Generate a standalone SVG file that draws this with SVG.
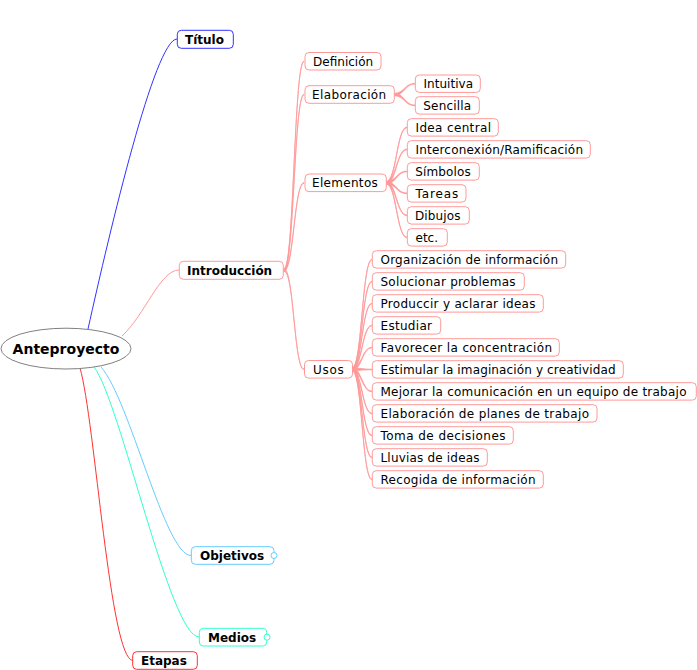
<svg xmlns="http://www.w3.org/2000/svg" width="697" height="670" viewBox="0 0 697 670">
<style>
text{font-family:"DejaVu Sans",Verdana,sans-serif;font-size:12px;fill:#000}
.b{font-weight:bold}
.n rect{fill:#fff;stroke:#ff9999;stroke-width:1}
.pk{fill:#ff9999;stroke:#ff9999;stroke-width:0.8;stroke-linejoin:round}
.c{fill:none;stroke-width:1}
</style>
<rect width="697" height="670" fill="#fff"/>
<g id="connectors">
<path class="c" stroke="#3333ff" d="M88,329 C110,230 155,39 177,39"/>
<path class="c" stroke="#ff9999" d="M122,336 C145,315 160,270 179,270"/>
<path class="c" stroke="#66ccff" d="M101,367 C130,400 165,555.5 191,555.5"/>
<path class="c" stroke="#33ffcc" d="M94,367 C120,400 170,637 199,637"/>
<path class="c" stroke="#ff3333" d="M80,368 C95,420 110,660.5 133,660.5"/>
<path class="pk" d="M284,268.8 C294,268.8 294,61 304,61 L304,61.6 C294,61.6 294,271.2 284,271.2 Z"/>
<path class="pk" d="M284,268.8 C294,268.8 294,94.2 304,94.2 L304,94.8 C294,94.8 294,271.2 284,271.2 Z"/>
<path class="pk" d="M284,268.8 C294,268.8 294,182.5 304,182.5 L304,183.1 C294,183.1 294,271.2 284,271.2 Z"/>
<path class="pk" d="M284,268.8 C294,268.8 294,369 304,369 L304,369.6 C294,369.6 294,271.2 284,271.2 Z"/>
<path class="pk" d="M394,93.3 C404.5,93.3 404.5,83.4 415,83.4 L415,84 C404.5,84 404.5,95.7 394,95.7 Z"/>
<path class="pk" d="M394,93.3 C404.5,93.3 404.5,105.1 415,105.1 L415,105.7 C404.5,105.7 404.5,95.7 394,95.7 Z"/>
<path class="pk" d="M386,181.6 C396.5,181.6 396.5,127.1 407,127.1 L407,127.7 C396.5,127.7 396.5,184 386,184 Z"/>
<path class="pk" d="M386,181.6 C396.5,181.6 396.5,149.1 407,149.1 L407,149.7 C396.5,149.7 396.5,184 386,184 Z"/>
<path class="pk" d="M386,181.6 C396.5,181.6 396.5,171.1 407,171.1 L407,171.7 C396.5,171.7 396.5,184 386,184 Z"/>
<path class="pk" d="M386,181.6 C396.5,181.6 396.5,193.1 407,193.1 L407,193.7 C396.5,193.7 396.5,184 386,184 Z"/>
<path class="pk" d="M386,181.6 C396.5,181.6 396.5,215.1 407,215.1 L407,215.7 C396.5,215.7 396.5,184 386,184 Z"/>
<path class="pk" d="M386,181.6 C396.5,181.6 396.5,237.1 407,237.1 L407,237.7 C396.5,237.7 396.5,184 386,184 Z"/>
<path class="pk" d="M352,368.1 C362,368.1 362,259.2 372,259.2 L372,259.8 C362,259.8 362,370.5 352,370.5 Z"/>
<path class="pk" d="M352,368.1 C362,368.1 362,281.2 372,281.2 L372,281.8 C362,281.8 362,370.5 352,370.5 Z"/>
<path class="pk" d="M352,368.1 C362,368.1 362,303.2 372,303.2 L372,303.8 C362,303.8 362,370.5 352,370.5 Z"/>
<path class="pk" d="M352,368.1 C362,368.1 362,325.2 372,325.2 L372,325.8 C362,325.8 362,370.5 352,370.5 Z"/>
<path class="pk" d="M352,368.1 C362,368.1 362,347.2 372,347.2 L372,347.8 C362,347.8 362,370.5 352,370.5 Z"/>
<path class="pk" d="M352,368.1 C362,368.1 362,369.2 372,369.2 L372,369.8 C362,369.8 362,370.5 352,370.5 Z"/>
<path class="pk" d="M352,368.1 C362,368.1 362,391.2 372,391.2 L372,391.8 C362,391.8 362,370.5 352,370.5 Z"/>
<path class="pk" d="M352,368.1 C362,368.1 362,413.2 372,413.2 L372,413.8 C362,413.8 362,370.5 352,370.5 Z"/>
<path class="pk" d="M352,368.1 C362,368.1 362,435.2 372,435.2 L372,435.8 C362,435.8 362,370.5 352,370.5 Z"/>
<path class="pk" d="M352,368.1 C362,368.1 362,457.2 372,457.2 L372,457.8 C362,457.8 362,370.5 352,370.5 Z"/>
<path class="pk" d="M352,368.1 C362,368.1 362,479.2 372,479.2 L372,479.8 C362,479.8 362,370.5 352,370.5 Z"/>
</g>
<g id="root"><ellipse cx="66" cy="348.6" rx="65" ry="20.4" fill="#fff" stroke="#808080" stroke-width="1"/><text class="b" x="66" y="353.6" text-anchor="middle" style="font-size:14px">Anteproyecto</text></g>
<g id="titulo"><rect x="177.3" y="30.3" width="56" height="18" rx="4" fill="#fff" stroke="#3333ff"/><text class="b" x="185" y="43.6">Título</text></g>
<g id="introduccion" class="n"><rect x="179.3" y="261.3" width="104" height="18" rx="4"/><text class="b" x="187" y="274.6">Introducción</text></g>
<g id="objetivos"><rect x="191.3" y="546.7" width="82.7" height="17.6" rx="4" fill="#fff" stroke="#66ccff"/><circle cx="274" cy="555.5" r="3" fill="#fff" stroke="#66ccff"/><text class="b" x="200" y="559.9">Objetivos</text></g>
<g id="medios"><rect x="199.3" y="628.3" width="67.4" height="17.7" rx="4" fill="#fff" stroke="#33ffcc"/><circle cx="267" cy="637.2" r="3" fill="#fff" stroke="#33ffcc"/><text class="b" x="208" y="641.5">Medios</text></g>
<g id="etapas"><rect x="132.7" y="651.7" width="64.6" height="17.6" rx="4" fill="#fff" stroke="#ff3333"/><text class="b" x="141" y="664.9">Etapas</text></g>
<g id="definicion" class="n"><rect x="305" y="52.5" width="76" height="17.5" rx="4"/><text x="313" y="65.5" textLength="60.2">Definición</text></g>
<g id="elaboracion" class="n"><rect x="305" y="85.7" width="89.3" height="17.6" rx="4"/><text x="312" y="98.8" textLength="74.2">Elaboración</text></g>
<g id="intuitiva" class="n"><rect x="415.3" y="75" width="65" height="17.4" rx="4"/><text x="423.5" y="88" textLength="49.5">Intuitiva</text></g>
<g id="sencilla" class="n"><rect x="415.3" y="96.7" width="64" height="17.4" rx="4"/><text x="423.3" y="109.8" textLength="47.8">Sencilla</text></g>
<g id="elementos" class="n"><rect x="305" y="174" width="81.3" height="17.6" rx="4"/><text x="312" y="187.1" textLength="65.8">Elementos</text></g>
<g id="idea" class="n"><rect x="407.3" y="118.7" width="91" height="17.4" rx="4"/><text x="415.5" y="131.8" textLength="75.5">Idea central</text></g>
<g id="interconexion" class="n"><rect x="407.3" y="140.7" width="183" height="17.4" rx="4"/><text x="415.5" y="153.8" textLength="167.5">Interconexión/Ramificación</text></g>
<g id="simbolos" class="n"><rect x="407.3" y="162.7" width="72" height="17.4" rx="4"/><text x="415.3" y="175.8" textLength="55.4">Símbolos</text></g>
<g id="tareas" class="n"><rect x="407.3" y="184.7" width="58.7" height="17.4" rx="4"/><text x="415.5" y="197.8" textLength="42.8">Tareas</text></g>
<g id="dibujos" class="n"><rect x="407.3" y="206.7" width="62" height="17.4" rx="4"/><text x="415" y="219.8" textLength="45.5">Dibujos</text></g>
<g id="etc" class="n"><rect x="407.3" y="228.7" width="40" height="17.4" rx="4"/><text x="415.5" y="241.8">etc.</text></g>
<g id="usos" class="n"><rect x="304.5" y="360.5" width="48" height="17.6" rx="4"/><text x="313" y="373.6" textLength="30.8">Usos</text></g>
<g id="u1" class="n"><rect x="372.3" y="250.7" width="193.4" height="17.4" rx="4"/><text x="380.5" y="263.8" textLength="177.5">Organización de información</text></g>
<g id="u2" class="n"><rect x="372.3" y="272.7" width="152" height="17.4" rx="4"/><text x="380.5" y="285.8" textLength="135">Solucionar problemas</text></g>
<g id="u3" class="n"><rect x="372.3" y="294.7" width="171" height="17.4" rx="4"/><text x="380.5" y="307.8" textLength="155">Produccir y aclarar ideas</text></g>
<g id="u4" class="n"><rect x="372.3" y="316.7" width="68.4" height="17.4" rx="4"/><text x="380.5" y="329.8" textLength="51.5">Estudiar</text></g>
<g id="u5" class="n"><rect x="372.3" y="338.7" width="187" height="17.4" rx="4"/><text x="380.5" y="351.8" textLength="171.5">Favorecer la concentración</text></g>
<g id="u6" class="n"><rect x="372.3" y="360.7" width="251" height="17.4" rx="4"/><text x="380.5" y="373.8" textLength="235">Estimular la imaginación y creatividad</text></g>
<g id="u7" class="n"><rect x="372.3" y="382.7" width="324" height="17.4" rx="4"/><text x="380.5" y="395.8" textLength="306">Mejorar la comunicación en un equipo de trabajo</text></g>
<g id="u8" class="n"><rect x="372.3" y="404.7" width="224.7" height="17.4" rx="4"/><text x="380.5" y="417.8" textLength="208.5">Elaboración de planes de trabajo</text></g>
<g id="u9" class="n"><rect x="372.3" y="426.7" width="141" height="17.4" rx="4"/><text x="380.5" y="439.8" textLength="125">Toma de decisiones</text></g>
<g id="u10" class="n"><rect x="372.3" y="448.7" width="115" height="17.4" rx="4"/><text x="380.5" y="461.8" textLength="99">Lluvias de ideas</text></g>
<g id="u11" class="n"><rect x="372.3" y="470.7" width="171" height="17.4" rx="4"/><text x="380.5" y="483.8" textLength="155">Recogida de información</text></g>
</svg>
